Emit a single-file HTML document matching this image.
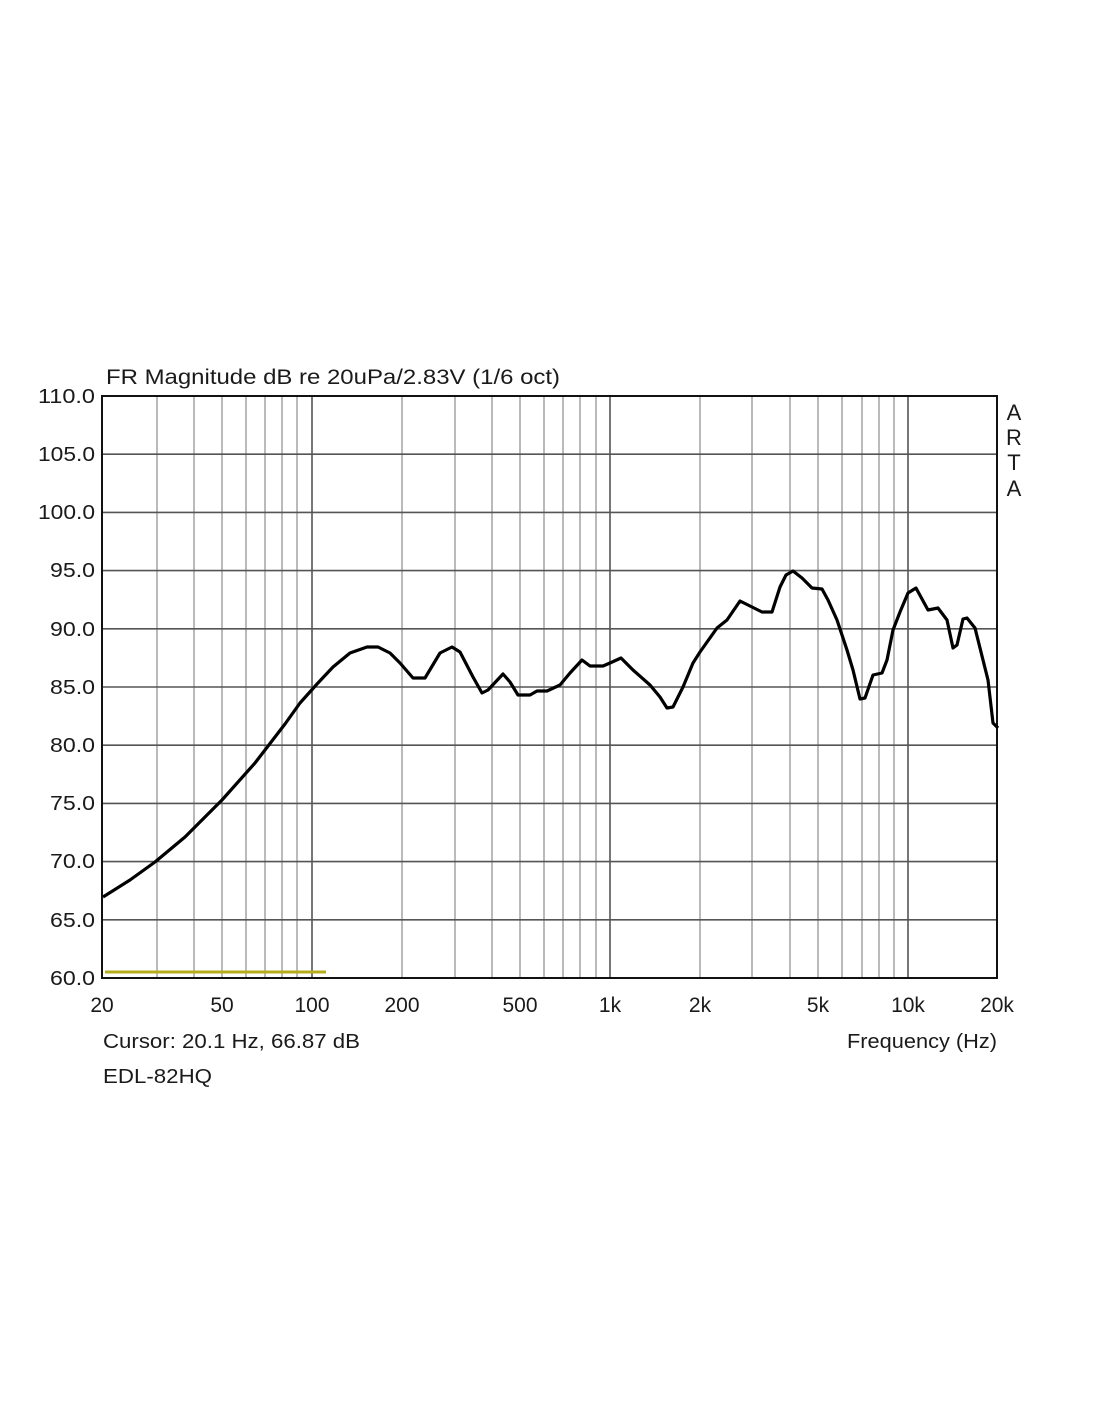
<!DOCTYPE html>
<html><head><meta charset="utf-8"><style>
html,body{margin:0;padding:0;background:#fff;}
svg{display:block;}
text{font-family:"Liberation Sans",Arial,sans-serif;fill:#1a1a1a;}
</style></head><body>
<svg width="1100" height="1422" viewBox="0 0 1100 1422" xmlns="http://www.w3.org/2000/svg">
<rect width="1100" height="1422" fill="#fff"/>
<g stroke="#a8a8a8" stroke-width="1.6">
<line x1="157" y1="396" x2="157" y2="978"/><line x1="194" y1="396" x2="194" y2="978"/>
<line x1="222" y1="396" x2="222" y2="978"/><line x1="246" y1="396" x2="246" y2="978"/>
<line x1="265" y1="396" x2="265" y2="978"/><line x1="282" y1="396" x2="282" y2="978"/>
<line x1="297" y1="396" x2="297" y2="978"/>
<line x1="402" y1="396" x2="402" y2="978"/><line x1="455" y1="396" x2="455" y2="978"/>
<line x1="492" y1="396" x2="492" y2="978"/><line x1="520" y1="396" x2="520" y2="978"/>
<line x1="544" y1="396" x2="544" y2="978"/><line x1="563" y1="396" x2="563" y2="978"/>
<line x1="580" y1="396" x2="580" y2="978"/><line x1="596" y1="396" x2="596" y2="978"/>
<line x1="700" y1="396" x2="700" y2="978"/><line x1="752" y1="396" x2="752" y2="978"/>
<line x1="790" y1="396" x2="790" y2="978"/><line x1="818" y1="396" x2="818" y2="978"/>
<line x1="842" y1="396" x2="842" y2="978"/><line x1="862" y1="396" x2="862" y2="978"/>
<line x1="879" y1="396" x2="879" y2="978"/><line x1="894" y1="396" x2="894" y2="978"/>
</g>
<g stroke="#555" stroke-width="1.6">
<line x1="312" y1="396" x2="312" y2="978"/><line x1="610" y1="396" x2="610" y2="978"/><line x1="908" y1="396" x2="908" y2="978"/>
<line x1="102" y1="454.2" x2="997" y2="454.2"/><line x1="102" y1="512.4" x2="997" y2="512.4"/>
<line x1="102" y1="570.6" x2="997" y2="570.6"/><line x1="102" y1="628.8" x2="997" y2="628.8"/>
<line x1="102" y1="687" x2="997" y2="687"/><line x1="102" y1="745.2" x2="997" y2="745.2"/>
<line x1="102" y1="803.4" x2="997" y2="803.4"/><line x1="102" y1="861.6" x2="997" y2="861.6"/>
<line x1="102" y1="919.8" x2="997" y2="919.8"/>
</g>
<rect x="102" y="396" width="895" height="582" fill="none" stroke="#111" stroke-width="2"/>
<line x1="105" y1="972" x2="326" y2="972" stroke="#b5ad1e" stroke-width="3"/>
<polyline fill="none" stroke="#000" stroke-width="3.2" stroke-linejoin="round" points="103,897 130,880 155,862 185,837 222,800 255,763 285,724 300,703 317,684 333,667 350,653 367,647 378,647 390,653 400,663 413,678 425,678 440,653 452,647 460,652 473,677 482,693 488,690 503,674 510,682 518,695 530,695 537,691 547,691 560,685 570,673 582,660 590,666 603,666 610,663 621,658 633,670 650,685 660,697 667,708 673,707 683,687 693,663 700,652 717,628 727,620 740,601 762,612 772,612 780,587 786,575 793,571 802,578 812,588 822,589 828,600 837,620 847,650 853,670 860,699 865,698 873,675 882,673 887,660 893,630 900,612 908,593 916,588 928,610 938,608 947,620 953,648 957,645 963,619 967,618 975,628 983,660 988,680 993,723 998,728"/>
<text x="106" y="384" font-size="21" textLength="454" lengthAdjust="spacingAndGlyphs">FR Magnitude dB re 20uPa/2.83V (1/6 oct)</text>
<g font-size="20" text-anchor="end">
<text x="95" y="403" textLength="57" lengthAdjust="spacingAndGlyphs">110.0</text>
<text x="95" y="461" textLength="57" lengthAdjust="spacingAndGlyphs">105.0</text>
<text x="95" y="519" textLength="57" lengthAdjust="spacingAndGlyphs">100.0</text>
<text x="95" y="577" textLength="45" lengthAdjust="spacingAndGlyphs">95.0</text>
<text x="95" y="636" textLength="45" lengthAdjust="spacingAndGlyphs">90.0</text>
<text x="95" y="694" textLength="45" lengthAdjust="spacingAndGlyphs">85.0</text>
<text x="95" y="752" textLength="45" lengthAdjust="spacingAndGlyphs">80.0</text>
<text x="95" y="810" textLength="45" lengthAdjust="spacingAndGlyphs">75.0</text>
<text x="95" y="868" textLength="45" lengthAdjust="spacingAndGlyphs">70.0</text>
<text x="95" y="927" textLength="45" lengthAdjust="spacingAndGlyphs">65.0</text>
<text x="95" y="985" textLength="45" lengthAdjust="spacingAndGlyphs">60.0</text>
</g>
<g font-size="21" text-anchor="middle">
<text x="102" y="1012">20</text><text x="222" y="1012">50</text><text x="312" y="1012">100</text>
<text x="402" y="1012">200</text><text x="520" y="1012">500</text><text x="610" y="1012">1k</text>
<text x="700" y="1012">2k</text><text x="818" y="1012">5k</text><text x="908" y="1012">10k</text>
<text x="997" y="1012">20k</text>
</g>
<g font-size="22" text-anchor="middle">
<text x="1014" y="420">A</text><text x="1014" y="445">R</text><text x="1014" y="470">T</text><text x="1014" y="496">A</text>
</g>
<text x="103" y="1048" font-size="20" textLength="257" lengthAdjust="spacingAndGlyphs">Cursor: 20.1 Hz, 66.87 dB</text>
<text x="847" y="1048" font-size="20" textLength="150" lengthAdjust="spacingAndGlyphs">Frequency (Hz)</text>
<text x="103" y="1083" font-size="20" textLength="109" lengthAdjust="spacingAndGlyphs">EDL-82HQ</text>
</svg>
</body></html>
